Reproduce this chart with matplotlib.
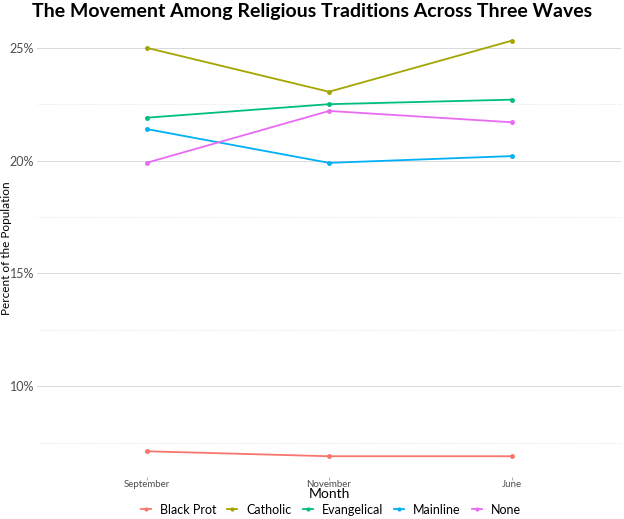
import numpy as np
import matplotlib.pyplot as plt
from matplotlib.ticker import FixedLocator, FuncFormatter

plt.rcParams['font.family'] = ['Lato', 'DejaVu Sans']

months = ["September", "November", "June"]
traditions = ["Black Prot", "Catholic", "Evangelical", "Mainline", "None"]
black_prot = [7.12, 6.9, 6.9]
catholic = [25.0, 23.05, 25.31]
evangelical = [21.9, 22.5, 22.7]
mainline = [21.4, 19.9, 20.2]
none_ = [19.9, 22.2, 21.7]
colors = ["#F8766D", "#A3A500", "#00BF7D", "#00B0F6", "#E76BF3"]

series = [black_prot, catholic, evangelical, mainline, none_]

fig = plt.figure(figsize=(6.24, 5.19), dpi=100)
ax = fig.add_axes([37 / 624, 42 / 519, 584 / 624, 457 / 519])

x = np.arange(1, len(months) + 1)
for name, vals, c in zip(traditions, series, colors):
    ax.plot(x, vals, color=c, lw=1.3, marker="o", ms=2.5, label=name)

ax.set_xlim(0.4, 3.6)
ax.set_ylim(5.98, 26.23)

ax.yaxis.set_major_locator(FixedLocator([10, 15, 20, 25]))
ax.yaxis.set_minor_locator(FixedLocator([7.5, 12.5, 17.5, 22.5]))
ax.yaxis.set_major_formatter(FuncFormatter(lambda v, p: f"{v:.0f}%"))
ax.set_xticks(x)
ax.set_xticklabels(months)

ax.grid(axis="y", which="major", color="#D9D9D9", lw=0.7)
ax.grid(axis="y", which="minor", color="#D9D9D9", lw=0.6, ls=(0, (1, 2)))
ax.set_axisbelow(True)
for s in ax.spines.values():
    s.set_visible(False)

ax.tick_params(axis="y", which="both", length=0, labelsize=9, labelcolor="#4D4D4D", pad=2)
ax.tick_params(axis="x", length=2, color="#B0B0B0", labelsize=7, labelcolor="#4D4D4D", pad=0.5)

ax.set_xlabel("Month", fontsize=10)
ax.xaxis.set_label_coords(0.5, -0.025)
ax.set_ylabel("Percent of the Population", fontsize=8.5)
ax.yaxis.set_label_coords(-0.043, 0.5)

fig.suptitle("The Movement Among Religious Traditions Across Three Waves",
             fontsize=14, fontweight="bold", x=0.5, y=0.995)

handles, labels = ax.get_legend_handles_labels()
fig.legend(handles, labels, loc="center", bbox_to_anchor=(0.53, 0.018), ncol=5, frameon=False,
           fontsize=9, handlelength=0.8, handletextpad=0.7, columnspacing=0.9,
           markerscale=0.8)

fig.savefig("out.png", dpi=100)
